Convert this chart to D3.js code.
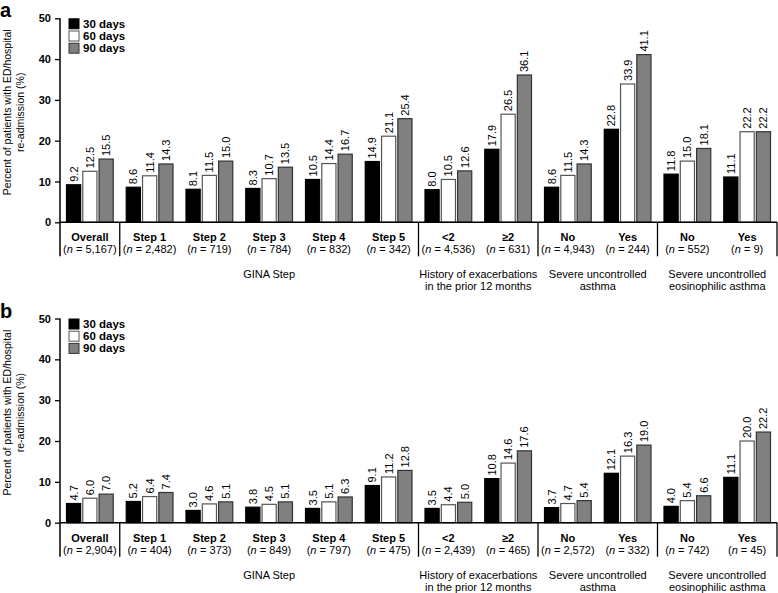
<!DOCTYPE html>
<html><head><meta charset="utf-8">
<script src="https://cdn.jsdelivr.net/npm/d3@7"></script>
<style>
body{margin:0;background:#fff;}
text{font-family:"Liberation Sans",Arial,sans-serif;fill:#000;}
</style></head>
<body><svg id="c" width="778" height="593"></svg>
<script>
const categories = ["Overall","Step 1","Step 2","Step 3","Step 4","Step 5","<2","\u22652","No","Yes","No","Yes"];
const seriesNames = ["30 days","60 days","90 days"];
const groupLabels = [["GINA Step"],["History of exacerbations","in the prior 12 months"],["Severe uncontrolled","asthma"],["Severe uncontrolled","eosinophilic asthma"]];
const groupSpans = [[1,5],[6,7],[8,9],[10,11]];
const yTicks = [0,10,20,30,40,50];

const nA = ["5,167","2,482","719","784","832","342","4,536","631","4,943","244","552","9"];
const a30 = [9.2,8.6,8.1,8.3,10.5,14.9,8.0,17.9,8.6,22.8,11.8,11.1];
const a60 = [12.5,11.4,11.5,10.7,14.4,21.1,10.5,26.5,11.5,33.9,15.0,22.2];
const a90 = [15.5,14.3,15.0,13.5,16.7,25.4,12.6,36.1,14.3,41.1,18.1,22.2];

const nB = ["2,904","404","373","849","797","475","2,439","465","2,572","332","742","45"];
const b30 = [4.7,5.2,3.0,3.8,3.5,9.1,3.5,10.8,3.7,12.1,4.0,11.1];
const b60 = [6.0,6.4,4.6,4.5,5.1,11.2,4.4,14.6,4.7,16.3,5.4,20.0];
const b90 = [7.0,7.4,5.1,5.1,6.3,12.8,5.0,17.6,5.4,19.0,6.6,22.2];

const fills = ["#000000","#ffffff","#808080"];
const strokes = ["#000000","#555555","#333333"];
const separators = [1,6,8,10,12];

const svg = d3.select("#c");
const left = 60, right = 777;

function panel(letter, top, bottom, series, ns){
  const g = svg.append("g");
  const y = d3.scaleLinear().domain([0,50]).range([bottom, top]);
  const x0 = d3.scaleBand().domain(d3.range(categories.length)).range([left,right]).paddingInner(0).paddingOuter(0);
  const bw = x0.bandwidth();
  const x1 = d3.scaleBand().domain([0,1,2]).range([6.5, bw-6.5]).paddingInner(0.13);

  g.append("text").attr("x",0).attr("y",top-1).attr("font-size",20).attr("font-weight","bold").text(letter);

  // y axis
  const ax = g.append("g").attr("transform",`translate(${left},0)`)
    .call(d3.axisLeft(y).tickValues(yTicks).tickSize(5).tickPadding(4).tickFormat(d3.format("d")));
  ax.select(".domain").remove();
  ax.selectAll("text").attr("font-size",11).attr("font-weight","bold").style("font-family","Liberation Sans, Arial, sans-serif");
  ax.selectAll("line").attr("stroke","#000").attr("stroke-width",1.3);

  // y label
  const ylc = (top+bottom)/2 - 8;
  const yl = g.append("text").attr("transform",`translate(11,${ylc}) rotate(-90)`).attr("text-anchor","middle").attr("font-size",10.5);
  yl.append("tspan").attr("x",0).attr("dy",0).text("Percent of patients with ED/hospital");
  yl.append("tspan").attr("x",0).attr("dy",13).text("re-admission (%)");

  // bars
  categories.forEach((c,i)=>{
    const gx = x0(i);
    series.forEach((s,k)=>{
      const v = s[i];
      g.append("rect").attr("x",gx+x1(k)).attr("y",y(v)).attr("width",x1.bandwidth()).attr("height",y(0)-y(v))
        .attr("fill",fills[k]).attr("stroke",strokes[k]).attr("stroke-width",1.2);
      const cx = gx+x1(k)+x1.bandwidth()/2 + 4;
      g.append("text").attr("transform",`translate(${cx},${y(v)-3}) rotate(-90)`).attr("font-size",11).text(v.toFixed(1));
    });
    g.append("text").attr("x",gx+bw/2).attr("y",bottom+19).attr("text-anchor","middle").attr("font-size",11).attr("font-weight","bold").text(c);
    const t = g.append("text").attr("x",gx+bw/2).attr("y",bottom+31).attr("text-anchor","middle").attr("font-size",11);
    t.append("tspan").text("(");
    t.append("tspan").attr("font-style","italic").text("n");
    t.append("tspan").text(" = "+ns[i]+")");
  });

  // axis lines
  g.append("line").attr("x1",left).attr("x2",right).attr("y1",y(0)).attr("y2",y(0)).attr("stroke","#000").attr("stroke-width",1.5);
  g.append("line").attr("x1",left).attr("x2",left).attr("y1",y(50)).attr("y2",bottom+34).attr("stroke","#000").attr("stroke-width",1.5);
  separators.forEach(s=>{
    const sx = s===categories.length ? right : x0(s);
    g.append("line").attr("x1",sx).attr("x2",sx).attr("y1",y(0)).attr("y2",bottom+34).attr("stroke","#000").attr("stroke-width",1.3);
  });

  // group labels
  groupLabels.forEach((lines,j)=>{
    const cx = (x0(groupSpans[j][0]) + x0(groupSpans[j][1]) + bw)/2;
    lines.forEach((l,li)=>{
      g.append("text").attr("x",cx).attr("y",bottom+56+li*12).attr("text-anchor","middle").attr("font-size",11).text(l);
    });
  });

  // legend
  seriesNames.forEach((nm,k)=>{
    const ly = top + 5 + k*12.2;
    g.append("rect").attr("x",69).attr("y",ly-4.5).attr("width",10).attr("height",10).attr("fill",fills[k]).attr("stroke",strokes[k]).attr("stroke-width",1);
    g.append("text").attr("x",83).attr("y",ly+4.5).attr("font-size",11.5).attr("font-weight","bold").text(nm);
  });
}

panel("a", 18.3, 222.3, [a30,a60,a90], nA);
panel("b", 318.5, 522.7, [b30,b60,b90], nB);
</script></body></html>
